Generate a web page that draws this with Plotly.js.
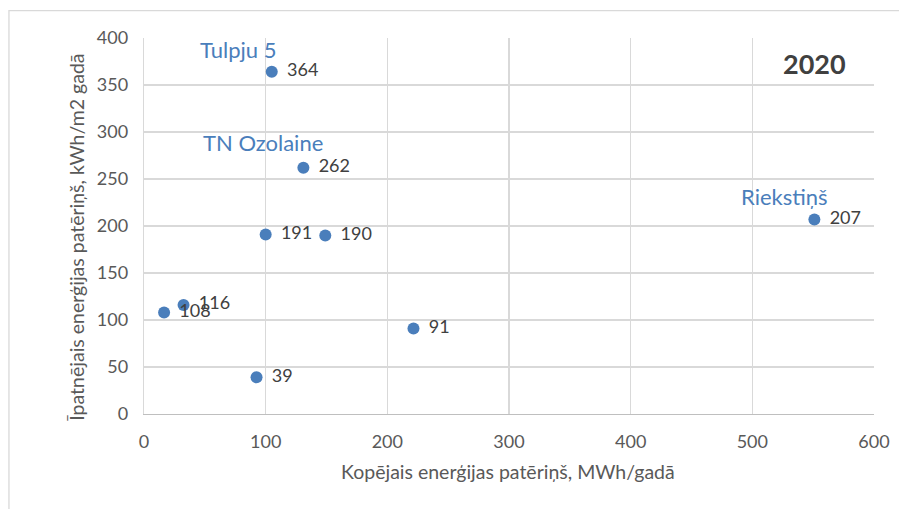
<!DOCTYPE html>
<html>
<head>
<meta charset="utf-8">
<script src="https://cdn.plot.ly/plotly-3.0.1.min.js"></script>
<style>html,body{margin:0;padding:0;background:#fff;}#chart{width:899px;height:509px;}</style>
</head>
<body>
<div id="chart"></div>
<script>
// Data
var totalMWh = [105, 131, 100, 149, 16.5, 32.5, 92.5, 221.5, 551];
var specificKWh = [364, 262, 191, 190, 108, 116, 39, 91, 207];
var valueLabels = ["364", "262", "191", "190", "108", "116", "39", "91", "207"];
var siteNames = ["Tulpju 5", "TN Ozolaine", "", "", "", "", "", "", "Riekstiņš"];
var xTicks = [0, 100, 200, 300, 400, 500, 600];
var yTicks = [0, 50, 100, 150, 200, 250, 300, 350, 400];
var yearLabel = "2020";
var xTitle = "Kopējais enerģijas patēriņš, MWh/gadā";
var yTitle = "Īpatnējais enerģijas patēriņš, kWh/m2 gadā";

var FONT = "Lato, 'Open Sans', sans-serif";

// label offsets (pixels) for site names, layout only
var nameShift = {"Tulpju 5": [-34, 22], "TN Ozolaine": [-40, 25], "Riekstiņš": [-30, 23]};

var trace = {
  type: "scatter",
  mode: "markers+text",
  x: totalMWh,
  y: specificKWh,
  text: valueLabels.map(function(t){ return "\u2009\u2009\u2009" + t; }),
  textposition: "middle right",
  textfont: {family: FONT, size: 18, color: "#404040"},
  marker: {color: "#4a7ebb", size: 12},
  cliponaxis: false,
  hoverinfo: "skip"
};

var annotations = [];
siteNames.forEach(function(n, i){
  if (!n) return;
  var s = nameShift[n] || [-32, 24];
  annotations.push({
    x: totalMWh[i], y: specificKWh[i], xref: "x", yref: "y",
    xanchor: "center", yanchor: "middle",
    text: n, showarrow: false,
    xshift: s[0], yshift: s[1],
    font: {family: FONT, size: 22, color: "#4a7ebb"}
  });
});
annotations.push({
  x: 0.919, y: 0.932, xref: "paper", yref: "paper",
  xanchor: "center", yanchor: "middle",
  text: "<b>" + yearLabel + "</b>", showarrow: false,
  font: {family: FONT, size: 27, color: "#404040"}
});
annotations.push({
  x: -0.0918, y: 0.4715, xref: "paper", yref: "paper",
  xanchor: "center", yanchor: "middle",
  text: yTitle, textangle: -90, showarrow: false,
  font: {family: FONT, size: 19.5, color: "#595959"}
});
annotations.push({
  x: 0.4993, y: -0.1535, xref: "paper", yref: "paper",
  xanchor: "center", yanchor: "middle",
  text: xTitle, showarrow: false,
  font: {family: FONT, size: 19.5, color: "#595959"}
});

var layout = {
  width: 899, height: 509,
  margin: {l: 144, r: 25, t: 38, b: 95},
  paper_bgcolor: "#ffffff", plot_bgcolor: "#ffffff",
  showlegend: false,
  xaxis: {
    range: [0, 600], tickvals: xTicks, ticktext: xTicks.map(String),
    showgrid: true, gridcolor: "#d9d9d9", gridwidth: 1.3,
    zeroline: false, showline: true, linecolor: "#bfbfbf", linewidth: 1.3,
    ticks: "", ticklen: 0, ticklabelstandoff: 11,
    tickfont: {family: FONT, size: 18, color: "#595959"},
    automargin: false
  },
  yaxis: {
    range: [0, 400], tickvals: yTicks, ticktext: yTicks.map(String),
    showgrid: true, gridcolor: "#d9d9d9", gridwidth: 1.3,
    zeroline: false, showline: true, linecolor: "#d9d9d9", linewidth: 1.3,
    ticks: "", ticklen: 0, ticklabelstandoff: 11,
    tickfont: {family: FONT, size: 18, color: "#595959"},
    automargin: false
  },
  annotations: annotations,
  shapes: [{
    type: "rect", xref: "paper", yref: "paper",
    x0: -0.185, x1: 1.2, y0: -0.3, y1: 1.0726,
    line: {color: "#d9d9d9", width: 1.3}, fillcolor: "rgba(0,0,0,0)", layer: "below"
  }]
};

Plotly.newPlot("chart", [trace], layout, {displayModeBar: false, staticPlot: true});
</script>
</body>
</html>
